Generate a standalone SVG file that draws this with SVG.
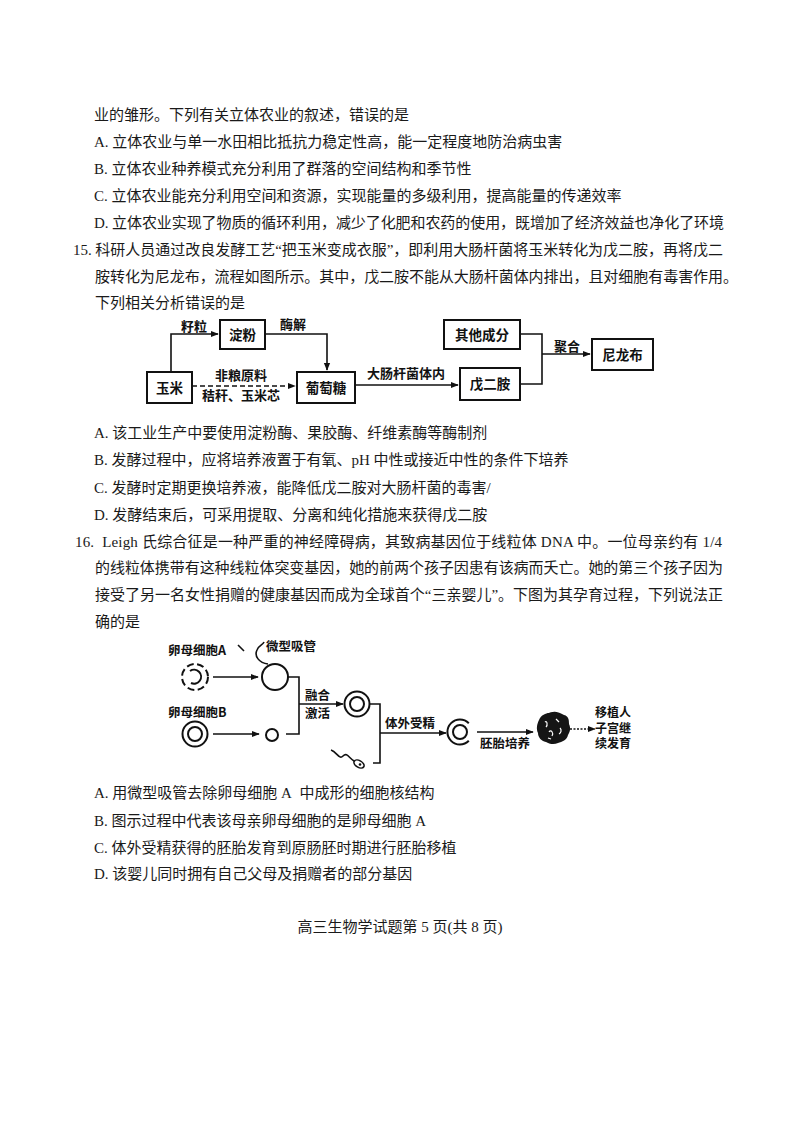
<svg xmlns="http://www.w3.org/2000/svg" width="800" height="1131" viewBox="0 0 800 1131">
<style>
.t{font-family:'Liberation Serif','Noto Sans CJK SC',serif;font-size:15px;fill:#1a1a1a}
.b{font-family:'Noto Sans CJK SC',sans-serif;font-weight:700;font-size:13px;fill:#111}
.bx{font-family:'Noto Sans CJK SC',sans-serif;font-weight:700;font-size:13.5px;fill:#111;text-anchor:middle}
.s{font-family:'Noto Sans CJK SC',sans-serif;font-weight:700;font-size:12.5px;fill:#111}
.s2{font-family:'Noto Sans CJK SC',sans-serif;font-weight:700;font-size:12px;fill:#111}
.box{fill:#fff;stroke:#111;stroke-width:2}
.ln{fill:none;stroke:#111;stroke-width:1.6}
.cl{fill:none;stroke:#111;stroke-width:2}
</style>
<defs>
<marker id="ah" viewBox="0 0 10 10" refX="9" refY="5" markerWidth="8" markerHeight="8" markerUnits="userSpaceOnUse" orient="auto"><path d="M0,1 L10,5 L0,9 z" fill="#111"/></marker>
</defs>
<rect width="800" height="1131" fill="#fff"/>

<g id="text-q14">
<text class="t" x="94" y="120">业的雏形。下列有关立体农业的叙述，错误的是</text>
<text class="t" x="94" y="147">A. 立体农业与单一水田相比抵抗力稳定性高，能一定程度地防治病虫害</text>
<text class="t" x="94" y="174">B. 立体农业种养模式充分利用了群落的空间结构和季节性</text>
<text class="t" x="94" y="201">C. 立体农业能充分利用空间和资源，实现能量的多级利用，提高能量的传递效率</text>
<text class="t" x="94" y="228" textLength="630" lengthAdjust="spacing">D. 立体农业实现了物质的循环利用，减少了化肥和农药的使用，既增加了经济效益也净化了环境</text>
</g>

<g id="text-q15">
<text class="t" x="73" y="255" textLength="650" lengthAdjust="spacing">15. 科研人员通过改良发酵工艺“把玉米变成衣服”，即利用大肠杆菌将玉米转化为戊二胺，再将戊二</text>
<text class="t" x="95" y="282" textLength="643" lengthAdjust="spacing">胺转化为尼龙布，流程如图所示。其中，戊二胺不能从大肠杆菌体内排出，且对细胞有毒害作用。</text>
<text class="t" x="95" y="308">下列相关分析错误的是</text>
</g>

<g id="connectors-flow">
<path class="ln" d="M171,372 V334 H218" marker-end="url(#ah)"/>
<path class="ln" d="M265,334 H327 V370" marker-end="url(#ah)"/>
<path class="ln" d="M192,386 H295" stroke-dasharray="5 3" stroke-width="2" marker-end="url(#ah)"/>
<path class="ln" d="M355,385 H458" marker-end="url(#ah)"/>
<path class="ln" d="M520,384 H542 V334 H520"/>
<path class="ln" d="M542,354 H590" marker-end="url(#ah)"/>
</g>
<g id="flow-labels">
<text class="b" x="194" y="331" text-anchor="middle">籽粒</text>
<text class="b" x="293" y="329" text-anchor="middle">酶解</text>
<text class="b" x="241" y="380" text-anchor="middle">非粮原料</text>
<text class="b" x="241" y="400" text-anchor="middle">秸秆、玉米芯</text>
<text class="b" x="406" y="378" text-anchor="middle">大肠杆菌体内</text>
<text class="b" x="567" y="351" text-anchor="middle">聚合</text>
</g>
<g id="n-yumi"><rect class="box" x="147" y="372" width="45" height="31"/><text class="bx" x="169.5" y="392.5">玉米</text></g>
<g id="n-dianfen"><rect class="box" x="220" y="320" width="45" height="29"/><text class="bx" x="242.5" y="339.5">淀粉</text></g>
<g id="n-putaotang"><rect class="box" x="297" y="372" width="58" height="31"/><text class="bx" x="326" y="392.5">葡萄糖</text></g>
<g id="n-qita"><rect class="box" x="444" y="320" width="76" height="29"/><text class="bx" x="482" y="339.5">其他成分</text></g>
<g id="n-wuerAn"><rect class="box" x="460" y="368" width="60" height="32"/><text class="bx" x="490" y="389">戊二胺</text></g>
<g id="n-nilongbu"><rect class="box" x="592" y="339" width="61" height="31"/><text class="bx" x="622.5" y="359.5">尼龙布</text></g>

<g id="text-q15-options">
<text class="t" x="94" y="438">A. 该工业生产中要使用淀粉酶、果胶酶、纤维素酶等酶制剂</text>
<text class="t" x="94" y="465">B. 发酵过程中，应将培养液置于有氧、pH 中性或接近中性的条件下培养</text>
<text class="t" x="94" y="493">C. 发酵时定期更换培养液，能降低戊二胺对大肠杆菌的毒害/</text>
<text class="t" x="94" y="520">D. 发酵结束后，可采用提取、分离和纯化措施来获得戊二胺</text>
</g>

<g id="text-q16">
<text class="t" x="75" y="547" textLength="647" lengthAdjust="spacing">16.&#160; Leigh 氏综合征是一种严重的神经障碍病，其致病基因位于线粒体 DNA 中。一位母亲约有 1/4</text>
<text class="t" x="95" y="573" textLength="628" lengthAdjust="spacing">的线粒体携带有这种线粒体突变基因，她的前两个孩子因患有该病而夭亡。她的第三个孩子因为</text>
<text class="t" x="95" y="600" textLength="628" lengthAdjust="spacing">接受了另一名女性捐赠的健康基因而成为全球首个“三亲婴儿”。下图为其孕育过程，下列说法正</text>
<text class="t" x="95" y="627">确的是</text>
</g>

<g id="connectors-cells">
<path class="ln" d="M213,677 H258" marker-end="url(#ah)"/>
<path class="ln" d="M213,734 H259" marker-end="url(#ah)"/>
<path class="ln" d="M288,677 H299 V734 H286"/>
<path class="ln" d="M299,704 H343" marker-end="url(#ah)"/>
<path class="ln" d="M370,704 H380 V763 H373"/>
<path class="ln" d="M380,733 H446" marker-end="url(#ah)"/>
<path class="ln" d="M477,732 H533" marker-end="url(#ah)"/>
<path class="ln" d="M570,729 H595" stroke-dasharray="2 1.5" marker-end="url(#ah)"/>
</g>

<g id="cell-a">
<circle cx="195" cy="677" r="13" class="cl" stroke-dasharray="7 3.5"/>
<path class="cl" d="M190,671 A7 7 0 1 1 191,683"/>
<text class="s" x="168" y="655">卵母细胞A</text>
</g>
<g id="cell-a-enucleated">
<circle cx="275" cy="677" r="13" class="cl"/>
<path class="ln" d="M268,664 C259,663 254,656 257,650 C259,645 263,645 264,642"/>
<path class="ln" d="M238,645 L244,651"/>
<text class="s" x="266" y="651">微型吸管</text>
</g>
<g id="cell-b">
<circle cx="195" cy="734" r="12.5" class="cl"/>
<circle cx="195" cy="734" r="7" class="cl"/>
<text class="s" x="168" y="717">卵母细胞B</text>
</g>
<g id="nucleus-b">
<circle cx="272" cy="735" r="6" class="cl" stroke-width="1.6"/>
</g>
<g id="fusion-label">
<text class="s" x="305" y="699.5">融合</text>
<text class="s" x="305" y="717.5">激活</text>
</g>
<g id="cell-fused">
<circle cx="357" cy="704" r="12.5" class="cl"/>
<circle cx="357" cy="704" r="7" class="cl"/>
</g>
<g id="sperm">
<ellipse cx="359" cy="764" rx="5.5" ry="3.3" transform="rotate(30 359 764)" fill="none" stroke="#111" stroke-width="1.6"/>
<circle cx="360" cy="764.5" r="1.3" fill="#111"/>
<path class="ln" d="M354,761 C349,758 347,752 343,756 C339,760 337,752 331,750" stroke-width="1.3"/>
</g>
<g id="ivf-label"><text class="s" x="385" y="728">体外受精</text></g>
<g id="zygote">
<path class="cl" d="M468.8,723.2 A12.5 12.5 0 1 0 468.8,740.8"/>
<circle cx="460" cy="732" r="7" class="cl"/>
</g>
<g id="culture-label"><text class="s" x="480" y="747.5">胚胎培养</text></g>
<g id="embryo">
<path d="M553,712 C558,711 561,714 564,715 C569,716 569,721 569,724 C571,728 570,732 568,735 C567,740 562,742 558,743 C554,745 549,744 546,742 C541,741 538,737 538,733 C536,729 537,724 539,720 C541,715 546,713 549,713 C550,712 552,712 553,712 Z" fill="#151515"/>
<path d="M545,722 C547,720 548,725 546,727 M549,732 C551,729 554,733 552,736 M556,719 L559,722 M560,728 C562,730 561,733 559,734 M548,738 L551,739" fill="none" stroke="#fff" stroke-width="1.2"/>
</g>
<g id="transplant-label">
<text class="s2" x="595" y="717">移植人</text>
<text class="s2" x="595" y="732.5">子宫继</text>
<text class="s2" x="595" y="748">续发育</text>
</g>

<g id="text-q16-options">
<text class="t" x="94" y="798">A. 用微型吸管去除卵母细胞 A&#160; 中成形的细胞核结构</text>
<text class="t" x="94" y="826">B. 图示过程中代表该母亲卵母细胞的是卵母细胞 A</text>
<text class="t" x="94" y="853">C. 体外受精获得的胚胎发育到原肠胚时期进行胚胎移植</text>
<text class="t" x="94" y="879">D. 该婴儿同时拥有自己父母及捐赠者的部分基因</text>
</g>

<g id="footer">
<text class="t" x="400" y="932" text-anchor="middle">高三生物学试题第 5 页(共 8 页)</text>
</g>
</svg>
